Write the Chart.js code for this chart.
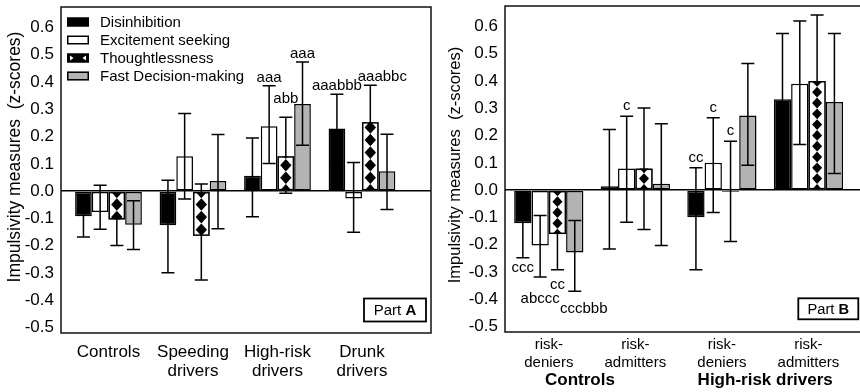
<!DOCTYPE html>
<html>
<head>
<meta charset="utf-8">
<script src="https://cdn.jsdelivr.net/npm/chart.js@4.4.0/dist/chart.umd.min.js"></script>
<style>
html, body { margin: 0; padding: 0; background: #fff; overflow: hidden; width: 860px; height: 392px; }
#wrap { position: relative; width: 860px; height: 392px; overflow: hidden; }
canvas { position: absolute; top: 0; }
#chartA { left: 0; }
#chartB { left: 440px; }
</style>
</head>
<body>
<div id="wrap">
  <canvas id="chartA" width="440" height="392"></canvas>
  <canvas id="chartB" width="430" height="392"></canvas>
</div>
<script>
const measures = ['Disinhibition', 'Excitement seeking', 'Thoughtlessness', 'Fast Decision-making'];
const groupsA = [['Controls'], ['Speeding', 'drivers'], ['High-risk', 'drivers'], ['Drunk', 'drivers']];
const groupsB = [['risk-', 'deniers'], ['risk-', 'admitters'], ['risk-', 'deniers'], ['risk-', 'admitters']];
const driverGroupsB = ['Controls', 'High-risk drivers'];
const yTicks = [-0.5, -0.4, -0.3, -0.2, -0.1, 0, 0.1, 0.2, 0.3, 0.4, 0.5, 0.6];
const yTitle = 'Impulsivity measures  (z-scores)';

// Part A: means and error bar ends
const disA = [-0.092, -0.125, 0.056, 0.230];
const disLoA = [-0.168, -0.299, -0.094, 0.105];
const disHiA = [-0.016, 0.040, 0.195, 0.355];
const excA = [-0.076, 0.128, 0.238, -0.027];
const excLoA = [-0.140, -0.029, 0.101, -0.151];
const excHiA = [0.022, 0.285, 0.386, 0.105];
const thoA = [-0.104, -0.164, 0.128, 0.253];
const thoLoA = [-0.199, -0.326, -0.008, 0.111];
const thoHiA = [-0.031, 0.026, 0.271, 0.388];
const fdmA = [-0.123, 0.037, 0.319, 0.073];
const fdmLoA = [-0.214, -0.138, 0.168, -0.067];
const fdmHiA = [-0.035, 0.208, 0.473, 0.209];
const notesA = [['', '', '', 'aaabbb'], ['', '', 'aaa', ''], ['', '', 'abb', 'aaabbc'], ['', '', 'aaa', '']];

// Part B
const disB = [-0.121, 0.014, -0.099, 0.333];
const disLoB = [-0.248, -0.216, -0.292, 0.092];
const disHiB = [-0.010, 0.222, 0.082, 0.574];
const excB = [-0.203, 0.079, 0.100, 0.390];
const excLoB = [-0.318, -0.118, -0.082, 0.167];
const excHiB = [-0.093, 0.271, 0.265, 0.620];
const thoB = [-0.161, 0.079, -0.006, 0.400];
const thoLoB = [-0.292, -0.144, -0.188, 0.158];
const thoHiB = [-0.030, 0.301, 0.179, 0.642];
const fdmB = [-0.229, 0.023, 0.274, 0.323];
const fdmLoB = [-0.371, -0.203, 0.091, 0.061];
const fdmHiB = [-0.111, 0.243, 0.464, 0.574];
const notesB = [['ccc', '', 'cc', ''], ['abccc', 'c', 'c', ''], ['cc', '', 'c', ''], ['cccbbb', '', '', '']];

const FONT = '"Liberation Sans", Arial, Helvetica, sans-serif';
const fills = ['#000000', '#ffffff', '#ffffff', '#b3b3b3'];

function makeDatasets(means, lows, highs, notes) {
    return measures.map((label, k) => ({
        label,
        data: means[k].map((v, i) => ({ x: i, y: v })),
        lo: lows[k],
        hi: highs[k],
        notes: notes[k],
        pattern: k === 2,
        backgroundColor: fills[k],
        borderColor: '#000',
        borderWidth: 1.5,
        borderSkipped: false,
    }));
}

function diamonds(ctx, x, from, to, hw, period) {
    // chain of diamonds centred on the base line, going towards the bar end
    const dir = to < from ? -1 : 1;
    const hp = period / 2;
    for (let c = from; dir < 0 ? c > to - period : c < to + period; c += dir * period) {
        ctx.beginPath();
        ctx.moveTo(x, c - hp);
        ctx.lineTo(x + hw, c);
        ctx.lineTo(x, c + hp);
        ctx.lineTo(x - hw, c);
        ctx.closePath();
        ctx.fill();
    }
}

const barExtras = {
    id: 'barExtras',
    afterDatasetsDraw(chart, args, o) {
        const ctx = chart.ctx;
        const ys = chart.scales.y;
        ctx.save();
        // error bars
        ctx.strokeStyle = '#000';
        ctx.lineWidth = 1.5;
        chart.data.datasets.forEach((ds, k) => {
            chart.getDatasetMeta(k).data.forEach((bar, i) => {
                const yl = ys.getPixelForValue(ds.lo[i]);
                const yh = ys.getPixelForValue(ds.hi[i]);
                const c = o.cap / 2;
                ctx.beginPath();
                ctx.moveTo(bar.x, yl); ctx.lineTo(bar.x, yh);
                ctx.moveTo(bar.x - c, yl); ctx.lineTo(bar.x + c, yl);
                ctx.moveTo(bar.x - c, yh); ctx.lineTo(bar.x + c, yh);
                ctx.stroke();
            });
        });
        // diamond fill for Thoughtlessness
        chart.data.datasets.forEach((ds, k) => {
            if (!ds.pattern) return;
            chart.getDatasetMeta(k).data.forEach(bar => {
                const p = bar.getProps(['x', 'y', 'base', 'width'], true);
                const left = p.x - p.width / 2;
                const top = Math.min(p.y, p.base);
                const h = Math.abs(p.base - p.y);
                if (h < 2) return;
                ctx.save();
                ctx.beginPath();
                ctx.rect(left, top, p.width, h);
                ctx.clip();
                ctx.fillStyle = '#fff';
                ctx.fillRect(left, top, p.width, h);
                ctx.fillStyle = '#000';
                diamonds(ctx, p.x, p.base, p.y, p.width * o.diamondRatio / 2, o.period);
                ctx.restore();
                ctx.strokeStyle = '#000';
                ctx.lineWidth = 1.5;
                ctx.strokeRect(left + 0.75, top + 0.75, p.width - 1.5, h - 1.5);
            });
        });
        // significance letters
        ctx.fillStyle = '#000';
        ctx.font = `${o.noteSize}px ${FONT}`;
        ctx.textAlign = 'center';
        ctx.textBaseline = 'alphabetic';
        chart.data.datasets.forEach((ds, k) => {
            chart.getDatasetMeta(k).data.forEach((bar, i) => {
                const t = ds.notes[i];
                if (!t) return;
                const nud = o.nudge[`${k}-${i}`] || [0, 0];
                let ty;
                if (ds.hi[i] > 0) ty = ys.getPixelForValue(ds.hi[i]) - o.above;
                else ty = ys.getPixelForValue(ds.lo[i]) + o.below;
                ctx.fillText(t, bar.x + nud[0], ty + nud[1]);
            });
        });
        ctx.restore();
    }
};

const decor = {
    id: 'decor',
    afterDraw(chart, args, o) {
        const ctx = chart.ctx;
        const a = chart.chartArea;
        ctx.save();
        // plot frame
        ctx.strokeStyle = '#111';
        ctx.lineWidth = 1.5;
        ctx.strokeRect(a.left, a.top, a.right - a.left, a.bottom - a.top);
        // y title
        ctx.fillStyle = '#000';
        ctx.save();
        ctx.translate(o.titleX, o.titleY);
        ctx.rotate(-Math.PI / 2);
        ctx.font = `${o.titleSize}px ${FONT}`;
        ctx.textAlign = 'center';
        ctx.textBaseline = 'middle';
        ctx.fillText(yTitle, 0, 0);
        ctx.restore();
        // "Part X" box
        const b = o.part;
        ctx.fillStyle = '#fff';
        ctx.fillRect(b.x, b.y, b.w, b.h);
        ctx.lineWidth = 1.8;
        ctx.strokeStyle = '#000';
        ctx.strokeRect(b.x, b.y, b.w, b.h);
        ctx.fillStyle = '#000';
        ctx.textBaseline = 'middle';
        ctx.textAlign = 'left';
        ctx.font = `${b.size}px ${FONT}`;
        const w1 = ctx.measureText('Part ').width;
        ctx.font = `bold ${b.size}px ${FONT}`;
        const w2 = ctx.measureText(b.letter).width;
        const sx = b.x + (b.w - w1 - w2) / 2;
        const cy = b.y + b.h / 2 + 1;
        ctx.font = `${b.size}px ${FONT}`;
        ctx.fillText('Part ', sx, cy);
        ctx.font = `bold ${b.size}px ${FONT}`;
        ctx.fillText(b.letter, sx + w1, cy);
        // legend
        const L = o.legend;
        if (L) {
            ctx.font = `${L.size}px ${FONT}`;
            chart.data.datasets.forEach((ds, k) => {
                const cy2 = L.y + k * L.row;
                const sy = cy2 - L.h / 2;
                ctx.fillStyle = ds.pattern ? '#000' : ds.backgroundColor;
                ctx.fillRect(L.x, sy, L.w, L.h);
                if (ds.pattern) {
                    ctx.fillStyle = '#fff';
                    const m = L.h / 2 - 1;
                    ctx.beginPath();
                    ctx.moveTo(L.x + 3, sy + 2); ctx.lineTo(L.x + 3 + m, cy2); ctx.lineTo(L.x + 3, sy + L.h - 2); ctx.closePath();
                    ctx.moveTo(L.x + L.w - 3, sy + 2); ctx.lineTo(L.x + L.w - 3 - m, cy2); ctx.lineTo(L.x + L.w - 3, sy + L.h - 2); ctx.closePath();
                    ctx.fill();
                }
                ctx.strokeStyle = '#000';
                ctx.lineWidth = 1.5;
                ctx.strokeRect(L.x + 0.75, sy + 0.75, L.w - 1.5, L.h - 1.5);
                ctx.fillStyle = '#000';
                ctx.textBaseline = 'middle';
                ctx.fillText(ds.label, L.x + L.textDx, cy2 + 0.5);
            });
        }
        ctx.restore();
    }
};

function yAxis(width) {
    return {
        min: -0.52,
        max: 0.675,
        afterBuildTicks: s => { s.ticks = yTicks.map(v => ({ value: v })); },
        afterFit: s => { s.width = width; s.paddingTop = 0; s.paddingBottom = 0; },
        ticks: { padding: 7, color: '#000', font: { family: FONT, size: 17 }, callback: v => Number(v).toFixed(1) },
        grid: {
            drawTicks: false,
            lineWidth: 1.5,
            color: c => (c.tick && c.tick.value === 0 ? '#000' : 'rgba(0,0,0,0)')
        },
        border: { display: false }
    };
}

function xAxis(labels, ticks, min, max, height, pad, font, weight) {
    return {
        type: 'linear',
        position: 'bottom',
        offset: false,
        min, max, weight,
        afterBuildTicks: s => { s.ticks = ticks.map(v => ({ value: v })); },
        afterFit: s => { s.height = height; s.paddingLeft = 0; s.paddingRight = 0; },
        ticks: {
            autoSkip: false, maxRotation: 0, minRotation: 0, padding: pad, color: '#000', font,
            callback: (v, i) => labels[i]
        },
        grid: { display: false, drawTicks: false },
        border: { display: false }
    };
}

function makeChart(id, datasets, scales, padding, catPct, extras, decorOpts) {
    return new Chart(document.getElementById(id), {
        type: 'bar',
        data: { datasets },
        options: {
            responsive: false,
            animation: false,
            devicePixelRatio: 1,
            layout: { padding },
            datasets: { bar: { categoryPercentage: catPct, barPercentage: 1 } },
            scales,
            plugins: {
                legend: { display: false },
                tooltip: { enabled: false },
                barExtras: extras,
                decor: decorOpts
            }
        },
        plugins: [barExtras, decor]
    });
}

const chartA = makeChart('chartA',
    makeDatasets([disA, excA, thoA, fdmA], [disLoA, excLoA, thoLoA, fdmLoA], [disHiA, excHiA, thoHiA, fdmHiA], notesA),
    {
        x: xAxis(groupsA, [0, 1, 2, 3], -0.562, 3.817, 59, 10, { family: FONT, size: 17, lineHeight: 1.12 }, 0),
        y: yAxis(61)
    },
    { left: 0, top: 7, right: 9, bottom: 0 },
    0.79,
    { cap: 13, period: 12.6, diamondRatio: 0.68, noteSize: 15, above: 4, below: 14, nudge: { '2-2': [0, -10], '2-3': [12, 0] } },
    {
        titleX: 15, titleY: 157, titleSize: 17.5,
        part: { x: 364, y: 298.5, w: 62, h: 23, size: 15, letter: 'A' },
        legend: { x: 67, y: 22, row: 18, w: 22, h: 9, textDx: 33, size: 15 }
    }
);

const chartB = makeChart('chartB',
    makeDatasets([disB, excB, thoB, fdmB], [disLoB, excLoB, thoLoB, fdmLoB], [disHiB, excHiB, thoHiB, fdmHiB], notesB),
    {
        x: xAxis(groupsB, [0, 1, 2, 3], -0.506, 3.665, 36, 4, { family: FONT, size: 15, lineHeight: 1.2 }, 0),
        x2: xAxis(driverGroupsB, [0.36, 2.5], -0.506, 3.665, 24, 2, { family: FONT, size: 17, weight: 'bold', lineHeight: 1.2 }, 1),
        y: yAxis(65)
    },
    { left: 0, top: 6, right: 4, bottom: 0 },
    0.8,
    { cap: 13, period: 10.8, diamondRatio: 0.58, noteSize: 15, above: 6, below: 14, nudge: { '1-0': [0, 12], '2-0': [0, 5], '3-0': [9, 8] } },
    {
        titleX: 15, titleY: 165, titleSize: 16.5,
        part: { x: 358.3, y: 298.3, w: 60, h: 21, size: 14.7, letter: 'B' }
    }
);
</script>
</body>
</html>
